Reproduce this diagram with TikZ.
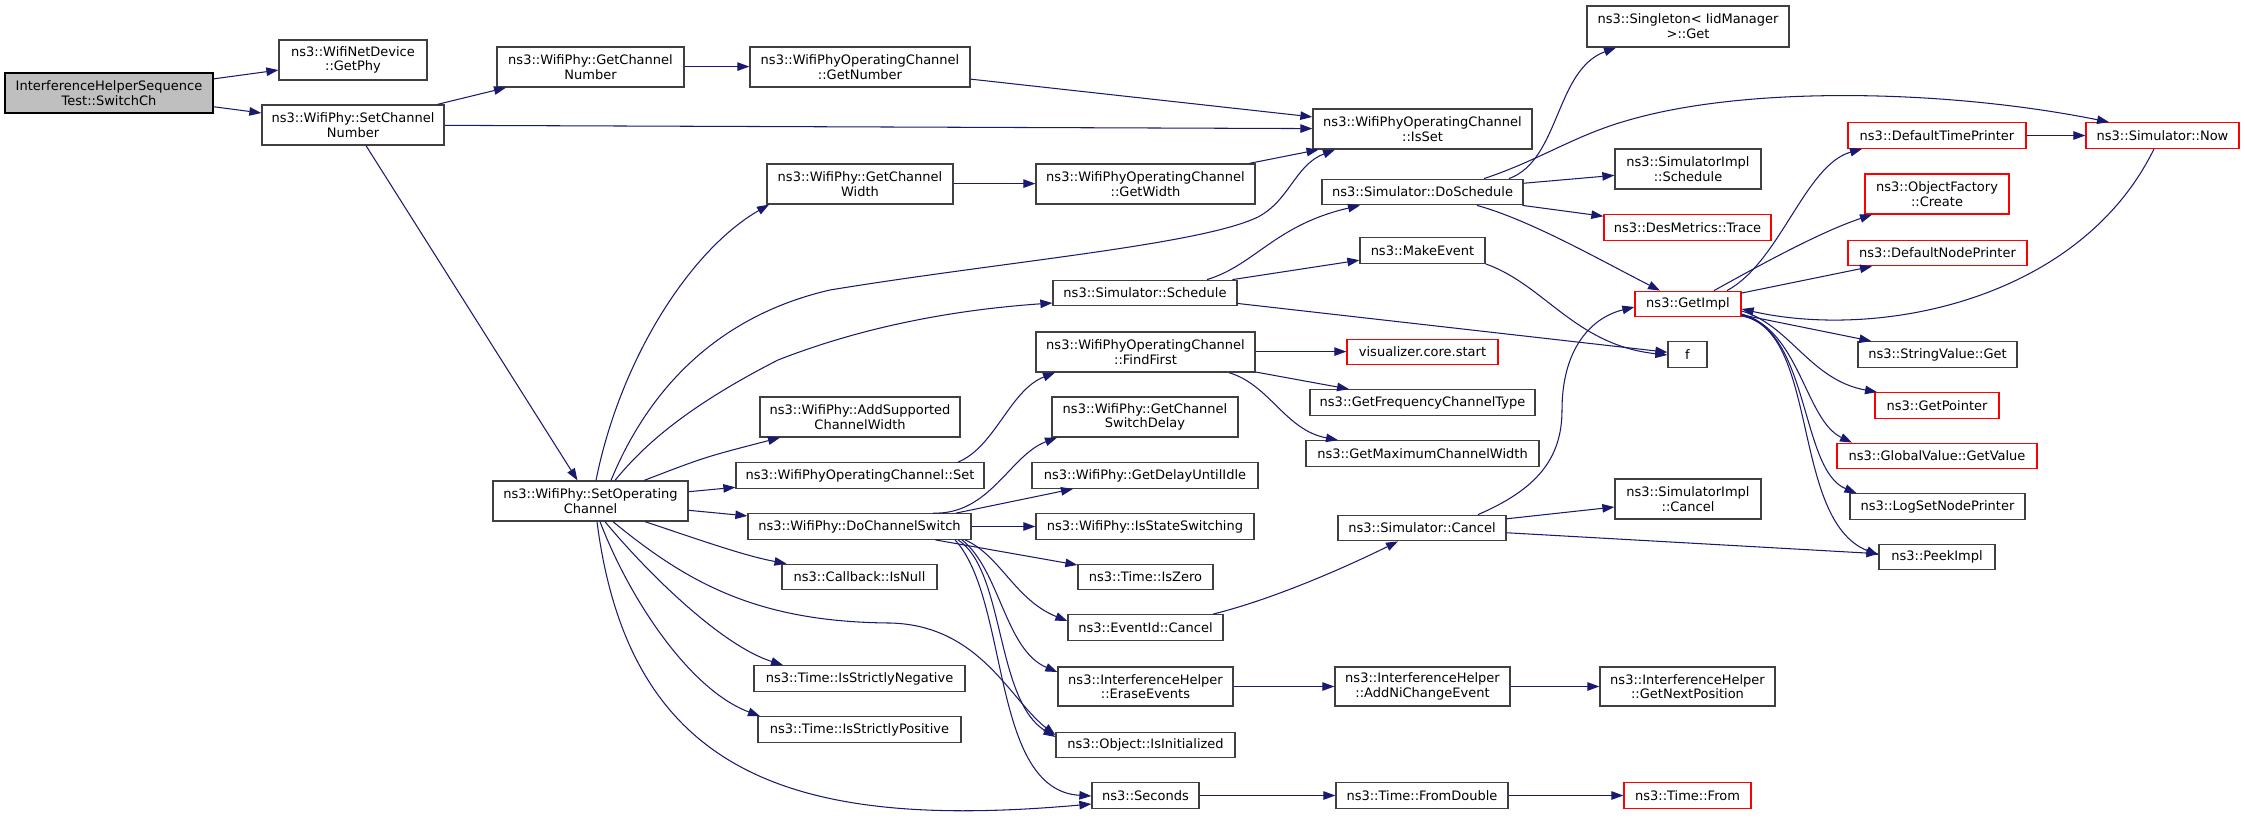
\documentclass[tikz,border=0pt]{standalone}
\usepackage{fontspec}
\setmainfont{DejaVu Sans}
\usetikzlibrary{arrows.meta}
\definecolor{edgecol}{HTML}{191970}
\definecolor{boxcol}{HTML}{404040}
\definecolor{rootfill}{HTML}{BFBFBF}
\definecolor{redcol}{HTML}{FF0000}
\tikzset{
  box/.style={draw=boxcol, line width=1.3pt, fill=white, inner sep=0pt, align=center,
              font=\fontsize{13}{14.7}\selectfont},
  one/.style={minimum height=25.5pt},
  two/.style={minimum height=40pt},
  redbox/.style={draw=redcol},
  rootbox/.style={fill=rootfill, draw=black},
  call/.style={draw=edgecol, line width=1.05pt, -{Triangle[length=12pt,width=8.5pt]}}
}
\begin{document}
\begin{tikzpicture}[x=1pt,y=-1pt]
\useasboundingbox (0,0) rectangle (2245,819);

% column 0-2
\node[box,two,rootbox,minimum width=208pt] (root) at (109,93) {InterferenceHelperSequence\\Test::SwitchCh};
\node[box,two,minimum width=148pt] (getphy) at (353,60) {ns3::WifiNetDevice\\::GetPhy};
\node[box,two,minimum width=182pt] (setchn) at (353,125) {ns3::WifiPhy::SetChannel\\Number};
\node[box,two,minimum width=187pt] (getchn) at (590.5,67) {ns3::WifiPhy::GetChannel\\Number};
\node[box,two,minimum width=195pt] (setop) at (590.5,501) {ns3::WifiPhy::SetOperating\\Channel};
% column 3
\node[box,two,minimum width=220pt] (getnum) at (860,67) {ns3::WifiPhyOperatingChannel\\::GetNumber};
\node[box,two,minimum width=186pt] (gcw) at (860,184) {ns3::WifiPhy::GetChannel\\Width};
\node[box,two,minimum width=200pt] (addsup) at (860,417) {ns3::WifiPhy::AddSupported\\ChannelWidth};
\node[box,one,minimum width=248pt] (opset) at (860,475.5) {ns3::WifiPhyOperatingChannel::Set};
\node[box,one,minimum width=223pt] (dcs) at (859.5,526.5) {ns3::WifiPhy::DoChannelSwitch};
\node[box,one,minimum width=155pt] (isnull) at (859.5,577) {ns3::Callback::IsNull};
\node[box,one,minimum width=211pt] (isneg) at (859.5,678.5) {ns3::Time::IsStrictlyNegative};
\node[box,one,minimum width=203pt] (ispos) at (859.5,729.5) {ns3::Time::IsStrictlyPositive};
% column 4
\node[box,two,minimum width=219pt] (getwidth) at (1145.5,184) {ns3::WifiPhyOperatingChannel\\::GetWidth};
\node[box,one,minimum width=184pt] (sched) at (1145,293) {ns3::Simulator::Schedule};
\node[box,two,minimum width=219pt] (findfirst) at (1145.5,352) {ns3::WifiPhyOperatingChannel\\::FindFirst};
\node[box,two,minimum width=186pt] (gcsd) at (1145,417) {ns3::WifiPhy::GetChannel\\SwitchDelay};
\node[box,one,minimum width=226pt] (gdui) at (1145,475.5) {ns3::WifiPhy::GetDelayUntilIdle};
\node[box,one,minimum width=218pt] (isss) at (1145,526.5) {ns3::WifiPhy::IsStateSwitching};
\node[box,one,minimum width=135pt] (iszero) at (1145.5,577) {ns3::Time::IsZero};
\node[box,one,minimum width=155pt] (evcancel) at (1145.5,627.5) {ns3::EventId::Cancel};
\node[box,minimum height=39pt,minimum width=175pt] (erase) at (1145.5,686.5) {ns3::InterferenceHelper\\::EraseEvents};
\node[box,one,minimum width=179pt] (isinit) at (1145.5,745) {ns3::Object::IsInitialized};
\node[box,one,minimum width=107pt] (seconds) at (1145.5,795.5) {ns3::Seconds};
% column 5
\node[box,two,minimum width=219pt] (isset) at (1422.5,129) {ns3::WifiPhyOperatingChannel\\::IsSet};
\node[box,one,minimum width=201pt] (dosched) at (1422.5,192) {ns3::Simulator::DoSchedule};
\node[box,one,minimum width=125pt] (makeev) at (1422.5,250.5) {ns3::MakeEvent};
\node[box,one,redbox,minimum width=151pt] (viz) at (1422.5,352) {visualizer.core.start};
\node[box,one,minimum width=225pt] (gfct) at (1422.5,402.5) {ns3::GetFrequencyChannelType};
\node[box,one,minimum width=233pt] (gmcw) at (1422.5,453.5) {ns3::GetMaximumChannelWidth};
\node[box,one,minimum width=168pt] (simcancel) at (1422,528) {ns3::Simulator::Cancel};
\node[box,minimum height=39pt,minimum width=175pt] (addni) at (1422.5,686.5) {ns3::InterferenceHelper\\::AddNiChangeEvent};
\node[box,one,minimum width=172pt] (fromdbl) at (1422,795.5) {ns3::Time::FromDouble};
% column 6
\node[box,minimum height=41pt,minimum width=202pt] (singleton) at (1688,26.5) {ns3::Singleton< IidManager\\ >::Get};
\node[box,two,minimum width=146pt] (sisched) at (1688,169) {ns3::SimulatorImpl\\::Schedule};
\node[box,one,redbox,minimum width=167pt] (trace) at (1687.5,227.5) {ns3::DesMetrics::Trace};
\node[box,one,redbox,minimum width=106pt] (getimpl) at (1688,304) {ns3::GetImpl};
\node[box,one,minimum width=39pt] (fnode) at (1687.5,354.5) {f};
\node[box,two,minimum width=146pt] (sicancel) at (1688,499) {ns3::SimulatorImpl\\::Cancel};
\node[box,minimum height=39pt,minimum width=175pt] (nextpos) at (1687.5,686.5) {ns3::InterferenceHelper\\::GetNextPosition};
\node[box,one,redbox,minimum width=127pt] (timefrom) at (1687.5,795.5) {ns3::Time::From};
% column 7
\node[box,one,redbox,minimum width=178pt] (dtp) at (1937,135.5) {ns3::DefaultTimePrinter};
\node[box,two,redbox,minimum width=144pt] (objfac) at (1937,194) {ns3::ObjectFactory\\::Create};
\node[box,one,redbox,minimum width=179pt] (dnp) at (1937.5,253) {ns3::DefaultNodePrinter};
\node[box,one,minimum width=159pt] (strget) at (1937.5,354.5) {ns3::StringValue::Get};
\node[box,one,redbox,minimum width=124pt] (getptr) at (1937,405.5) {ns3::GetPointer};
\node[box,one,redbox,minimum width=200pt] (gvget) at (1937,456) {ns3::GlobalValue::GetValue};
\node[box,one,minimum width=175pt] (lsnp) at (1937.5,506.5) {ns3::LogSetNodePrinter};
\node[box,one,minimum width=116pt] (peek) at (1937,557) {ns3::PeekImpl};
% column 8
\node[box,one,redbox,minimum width=153pt] (now) at (2162.5,135.5) {ns3::Simulator::Now};

% straight connectors
\draw[call] (root) -- (getphy);
\draw[call] (root) -- (setchn);
\draw[call] (setchn) -- (getchn);
\draw[call] (setchn) -- (isset);
\draw[call] (setchn) -- (setop);
\draw[call] ([yshift=0.4pt]getchn.east) -- ([yshift=0.4pt]getnum.west);
\draw[call] (getnum) -- (isset);
\draw[call] (setop) -- (opset);
\draw[call] (setop) -- (dcs);
\draw[call] ([yshift=0.4pt]gcw.east) -- ([yshift=0.4pt]getwidth.west);
\draw[call] (getwidth) -- (isset);
\draw[call] (sched) -- (makeev);
\draw[call] (sched) -- (fnode);
\draw[call] ([yshift=0.4pt]findfirst.east) -- ([yshift=0.4pt]viz.west);
\draw[call] (findfirst) -- (gfct);
\draw[call] (dcs) -- (isss);
\draw[call] (dcs) -- (iszero);
\draw[call] ([xshift=96.5pt]dcs.north) -- ([xshift=-72pt]gdui.south);
\draw[call] (erase) -- (addni);
\draw[call] (addni) -- (nextpos);
\draw[call] (seconds) -- (fromdbl);
\draw[call] (fromdbl) -- (timefrom);
\draw[call] (simcancel) -- (sicancel);
\draw[call] (simcancel) -- (peek);
\draw[call] (dosched) -- (sisched);
\draw[call] (dosched) -- (trace);
\draw[call] (getimpl) -- (dnp);
\draw[call] (getimpl) -- (strget);
\draw[call] (dtp) -- (now);

% curved connectors from SetOperatingChannel
\draw[call] ([xshift=5.5pt]setop.north) .. controls (620,360) and (690,250) .. ([xshift=-91pt]gcw.south);
\draw[call] ([xshift=20.5pt]setop.north) .. controls (640,410) and (700,320) .. (830,290)
   .. controls (1000,262) and (1200,245) .. (1258,217)
   .. controls (1290,200) and (1295,165) .. ([xshift=-87.5pt]isset.south);
\draw[call] ([xshift=24.5pt]setop.north) .. controls (640,450) and (680,410) .. (778,360)
   .. controls (880,320) and (980,308) .. ([yshift=-10pt]sched.west);
\draw[call] (setop) .. controls (705,457) .. (addsup);
\draw[call] ([xshift=54.5pt]setop.south) .. controls (700,540) and (745,556) .. ([xshift=-73pt]isnull.north);
\draw[call] ([xshift=22.5pt]setop.south) .. controls (690,585) and (760,622) .. (890,623)
   .. controls (980,625) and (1010,700) .. ([yshift=10pt]isinit.west);
\draw[call] ([xshift=14.5pt]setop.south) .. controls (645,570) and (720,645) .. ([xshift=-76.5pt]isneg.north);
\draw[call] ([xshift=9.5pt]setop.south) .. controls (630,600) and (690,690) .. ([xshift=-99.5pt]ispos.north);
\draw[call] ([xshift=6.5pt]setop.south) .. controls (630,780) and (800,830) .. ([yshift=-8.5pt]seconds.west);

% from DoChannelSwitch
\draw[call] ([xshift=73.5pt]dcs.north) .. controls (990,515) and (1010,455) .. ([xshift=-88pt]gcsd.south);
\draw[call] ([xshift=105.5pt]dcs.south) .. controls (1000,555) and (1015,600) .. ([yshift=6.5pt]evcancel.west);
\draw[call] ([xshift=102.5pt]dcs.south) .. controls (1000,570) and (1005,650) .. ([yshift=14.5pt]erase.west);
\draw[call] ([xshift=98.5pt]dcs.south) .. controls (1005,570) and (995,700) .. ([yshift=8pt]isinit.west);
\draw[call] ([xshift=95.5pt]dcs.south) .. controls (1010,600) and (990,790) .. ([yshift=-0.5pt]seconds.west);

% others
\draw[call] ([xshift=98pt]opset.north) .. controls (995,447) and (1010,390) .. ([xshift=-90.5pt]findfirst.south);
\draw[call] ([xshift=83.5pt]findfirst.south) .. controls (1270,385) and (1285,430) .. ([xshift=-84.5pt]gmcw.north);
\draw[call] ([xshift=62pt]sched.north) .. controls (1255,265) and (1275,225) .. ([xshift=-62.5pt]dosched.south);
\draw[call] (makeev.south east) .. controls (1545,285) and (1575,345) .. ([yshift=-0.5pt]fnode.west);
\draw[call] ([xshift=67.5pt]evcancel.north) .. controls (1270,600) and (1340,570) .. ([xshift=-24pt]simcancel.south);
\draw[call] ([xshift=56pt]simcancel.north) .. controls (1535,490) and (1562,460) .. (1562,410)
   .. controls (1562,350) and (1590,318) .. ([yshift=-3pt]getimpl.west);
\draw[call] ([xshift=86.5pt]dosched.north) .. controls (1560,160) and (1555,70) .. ([xshift=-72pt]singleton.south);
\draw[call] ([xshift=61.5pt]dosched.north) .. controls (1540,160) and (1575,135) .. (1629,120)
   .. controls (1750,85) and (1950,90) .. ([xshift=-53.5pt]now.north);
\draw[call] ([xshift=54.5pt]dosched.south) .. controls (1530,220) and (1600,260) .. ([xshift=-28pt]getimpl.north);

% from GetImpl
\draw[call] ([xshift=39pt]getimpl.north) .. controls (1780,262) and (1805,165) .. ([xshift=-75pt]dtp.south);
\draw[call] ([xshift=26pt]getimpl.north) .. controls (1760,265) and (1820,232) .. ([xshift=-65pt]objfac.south);
\draw[call] ([yshift=-7pt]getimpl.east) .. controls (1790,325) and (1810,380) .. ([xshift=-60pt]getptr.north);
\draw[call] ([yshift=-10pt]getimpl.east) .. controls (1800,330) and (1805,420) .. ([xshift=-85pt]gvget.north);
\draw[call] ([yshift=-11pt]getimpl.east) .. controls (1810,330) and (1800,470) .. ([xshift=-81pt]lsnp.north);
\draw[call] ([yshift=-12pt]getimpl.east) .. controls (1820,330) and (1790,520) .. ([yshift=2pt]peek.west);
\draw[call] ([xshift=-8.5pt]now.south) .. controls (2080,300) and (1880,340) .. ([yshift=-5pt]getimpl.east);
\end{tikzpicture}
\end{document}
